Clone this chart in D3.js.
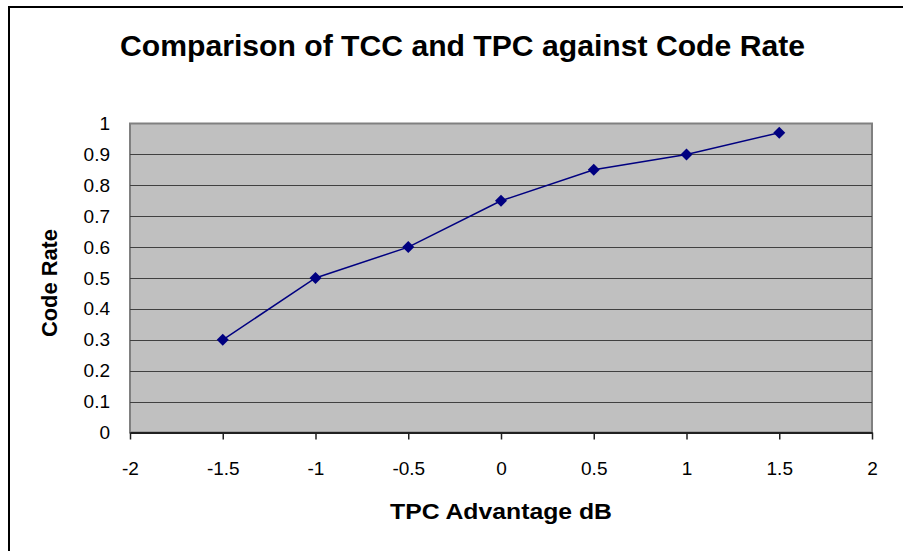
<!DOCTYPE html>
<html><head><meta charset="utf-8">
<script src="https://cdn.jsdelivr.net/npm/d3@7"></script>
<style>body{margin:0;background:#fff}svg{display:block}</style>
</head><body>
<script>
const xValues = [-1.5, -1, -0.5, 0, 0.5, 1, 1.5];
const yValues = [0.3, 0.5, 0.6, 0.75, 0.85, 0.9, 0.97];
const xTicks = [-2, -1.5, -1, -0.5, 0, 0.5, 1, 1.5, 2];
const yTicks = [0, 0.1, 0.2, 0.3, 0.4, 0.5, 0.6, 0.7, 0.8, 0.9, 1];
const titleText = "Comparison of TCC and TPC against Code Rate";
const xTitle = "TPC Advantage dB";
const yTitle = "Code Rate";

const W = 903, H = 551;
const fmt = d => String(d);
const FONT = "Liberation Sans, Arial, sans-serif";
const svg = d3.select("body").append("svg").attr("width", W).attr("height", H);
svg.append("rect").attr("x", 9).attr("y", 7).attr("width", W + 10).attr("height", H + 10)
  .attr("fill", "#fff").attr("stroke", "#000").attr("stroke-width", 2);

const L = 130, R = 872, T = 123.5, B = 432.5;
const x = d3.scaleLinear().domain([-2, 2]).range([L, R]);
const y = d3.scaleLinear().domain([0, 1]).range([B, T]);

svg.append("rect").attr("x", L).attr("y", T).attr("width", R - L).attr("height", B - T)
  .attr("fill", "#c0c0c0").attr("stroke", "#808080").attr("stroke-width", 2);

svg.append("g").selectAll("line").data(yTicks.slice(1, -1)).join("line")
  .attr("x1", L).attr("x2", R).attr("y1", d => Math.round(y(d)) + 0.5).attr("y2", d => Math.round(y(d)) + 0.5)
  .attr("stroke", "#404040").attr("stroke-width", 1);

// x axis
const xa = svg.append("g").attr("transform", `translate(0,${B})`)
  .call(d3.axisBottom(x).tickValues(xTicks).tickSize(7).tickSizeOuter(0).tickFormat(fmt));
xa.select(".domain").attr("stroke", "#202020").attr("stroke-width", 2);
xa.selectAll(".tick line").attr("stroke", "#202020").attr("stroke-width", 1.5);
xa.selectAll("text").attr("font-family", FONT).attr("font-size", 19)
  .attr("fill", "#000").attr("dy", null).attr("y", 42);

// y axis labels
svg.append("g").selectAll("text").data(yTicks).join("text")
  .attr("x", 110).attr("y", d => y(d) + 6.5).attr("text-anchor", "end")
  .attr("font-family", FONT).attr("font-size", 19).attr("fill", "#000")
  .text(fmt);

// line
const pts = xValues.map((v, i) => [v, yValues[i]]);
svg.append("path").datum(pts)
  .attr("d", d3.line().x(d => x(d[0])).y(d => y(d[1])))
  .attr("fill", "none").attr("stroke", "#000080").attr("stroke-width", 1.5);
svg.append("g").selectAll("path").data(pts).join("path")
  .attr("transform", d => `translate(${x(d[0])},${y(d[1])})`)
  .attr("d", "M0,-6L6,0L0,6L-6,0Z").attr("fill", "#000080");

// titles
svg.append("text").attr("x", 462.5).attr("y", 56).attr("text-anchor", "middle")
  .attr("font-family", FONT).attr("font-weight", "bold").attr("font-size", 29)
  .attr("textLength", 685).attr("lengthAdjust", "spacingAndGlyphs")
  .text(titleText);
svg.append("text").attr("x", 501).attr("y", 519).attr("text-anchor", "middle")
  .attr("font-family", FONT).attr("font-weight", "bold").attr("font-size", 21.5)
  .attr("textLength", 222).attr("lengthAdjust", "spacingAndGlyphs")
  .text(xTitle);
svg.append("text").attr("transform", "translate(57,283) rotate(-90)").attr("text-anchor", "middle")
  .attr("font-family", FONT).attr("font-weight", "bold").attr("font-size", 21.5)
  .attr("textLength", 108).attr("lengthAdjust", "spacingAndGlyphs")
  .text(yTitle);
</script>
</body></html>
